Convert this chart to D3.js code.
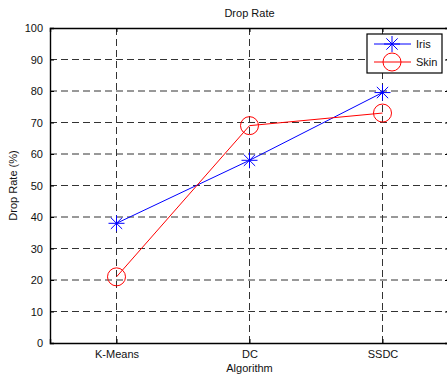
<!DOCTYPE html>
<html>
<head>
<meta charset="utf-8">
<script src="https://cdn.jsdelivr.net/npm/d3@7"></script>
<style>
  body { margin: 0; background: #fff; }
  svg { display: block; font-family: "Liberation Sans", Arial, sans-serif; }
</style>
</head>
<body>
<div id="chart"></div>
<script>
const algorithms = ['K-Means', 'DC', 'SSDC']
const irisRate = [38, 58, 79.5]
const skinRate = [21, 69, 73]
const yTicks = [0, 10, 20, 30, 40, 50, 60, 70, 80, 90, 100]

const W = 447, H = 376
const margin = { top: 28, right: -2, bottom: 33, left: 50 }
const width = W - margin.left - margin.right
const height = H - margin.top - margin.bottom

const svg = d3.select('#chart').append('svg')
  .attr('width', W).attr('height', H)

const g = svg.append('g')
  .attr('transform', `translate(${margin.left}, ${margin.top})`)

const x = d3.scaleLinear().domain([0.5, algorithms.length + 0.5]).range([0, width])
const y = d3.scaleLinear().domain([0, 100]).range([height, 0])

// grid
g.selectAll('.hgrid').data(yTicks.slice(1, -1)).enter().append('line')
  .attr('x1', 0).attr('x2', width)
  .attr('y1', d => y(d)).attr('y2', d => y(d))
  .attr('stroke', '#333').attr('stroke-width', 1)
  .attr('stroke-dasharray', '7,4')
g.selectAll('.vgrid').data(algorithms).enter().append('line')
  .attr('x1', (d, i) => x(i + 1)).attr('x2', (d, i) => x(i + 1))
  .attr('y1', 0).attr('y2', height)
  .attr('stroke', '#333').attr('stroke-width', 1)
  .attr('stroke-dasharray', '7,4')

// axes
const yAxis = g.append('g')
  .call(d3.axisLeft(y).tickValues(yTicks).tickSize(-4).tickPadding(7))
const xAxis = g.append('g')
  .attr('transform', `translate(0, ${height})`)
  .call(d3.axisBottom(x).tickValues(d3.range(1, algorithms.length + 1))
    .tickFormat((d, i) => algorithms[i]).tickSize(-4).tickPadding(7))
const xTop = g.append('g')
  .call(d3.axisTop(x).tickValues(d3.range(1, algorithms.length + 1))
    .tickFormat('').tickSize(-4))
const yRight = g.append('g')
  .attr('transform', `translate(${width}, 0)`)
  .call(d3.axisRight(y).tickValues(yTicks).tickFormat('').tickSize(-4))

;[yAxis, xAxis, xTop, yRight].forEach(a => {
  a.select('.domain').attr('stroke', '#000').attr('stroke-width', 1.4)
  a.selectAll('.tick line').attr('stroke', '#000')
  a.selectAll('text').attr('font-size', 11).attr('fill', '#111')
    .attr('font-family', '"Liberation Sans", Arial, sans-serif')
})

// series
const series = [
  { name: 'Iris', values: irisRate, color: '#0000ff', marker: 'star' },
  { name: 'Skin', values: skinRate, color: '#ff0000', marker: 'circle' }
]

function drawMarker(sel, type, color) {
  if (type === 'star') {
    const r = 8
    const s = r * Math.SQRT1_2
    sel.append('path')
      .attr('d', `M${-r},0L${r},0M0,${-r}L0,${r}M${-s},${-s}L${s},${s}M${-s},${s}L${s},${-s}`)
      .attr('stroke', color).attr('stroke-width', 1).attr('fill', 'none')
  } else {
    sel.append('circle').attr('r', 9)
      .attr('stroke', color).attr('stroke-width', 1).attr('fill', 'none')
  }
}

const line = d3.line().x((d, i) => x(i + 1)).y(d => y(d))
series.forEach(s => {
  g.append('path').datum(s.values)
    .attr('fill', 'none').attr('stroke', s.color).attr('stroke-width', 1)
    .attr('d', line)
  s.values.forEach((v, i) => {
    const m = g.append('g').attr('transform', `translate(${x(i + 1)}, ${y(v)})`)
    drawMarker(m, s.marker, s.color)
  })
})

// legend
const legend = g.append('g').attr('transform', `translate(${width - 82}, 6)`)
legend.append('rect').attr('width', 75).attr('height', 39)
  .attr('fill', '#fff').attr('stroke', '#000').attr('stroke-width', 1.2)
series.forEach((s, i) => {
  const row = legend.append('g').attr('transform', `translate(0, ${10 + i * 18})`)
  row.append('line').attr('x1', 7).attr('x2', 44).attr('y1', 0).attr('y2', 0)
    .attr('stroke', s.color).attr('stroke-width', 1)
  const m = row.append('g').attr('transform', 'translate(25, 0)')
  drawMarker(m, s.marker, s.color)
  row.append('text').attr('x', 49).attr('y', 4)
    .attr('font-size', 11).attr('fill', '#111').text(s.name)
})

// labels
svg.append('text').attr('x', margin.left + x(2)).attr('y', 17)
  .attr('text-anchor', 'middle').attr('font-size', 11).attr('fill', '#111')
  .text('Drop Rate')
svg.append('text').attr('x', margin.left + x(2)).attr('y', 372)
  .attr('text-anchor', 'middle').attr('font-size', 11).attr('fill', '#111')
  .text('Algorithm')
svg.append('text')
  .attr('transform', `translate(17, ${margin.top + height / 2}) rotate(-90)`)
  .attr('text-anchor', 'middle').attr('font-size', 11).attr('fill', '#111')
  .text('Drop Rate (%)')
</script>
</body>
</html>
